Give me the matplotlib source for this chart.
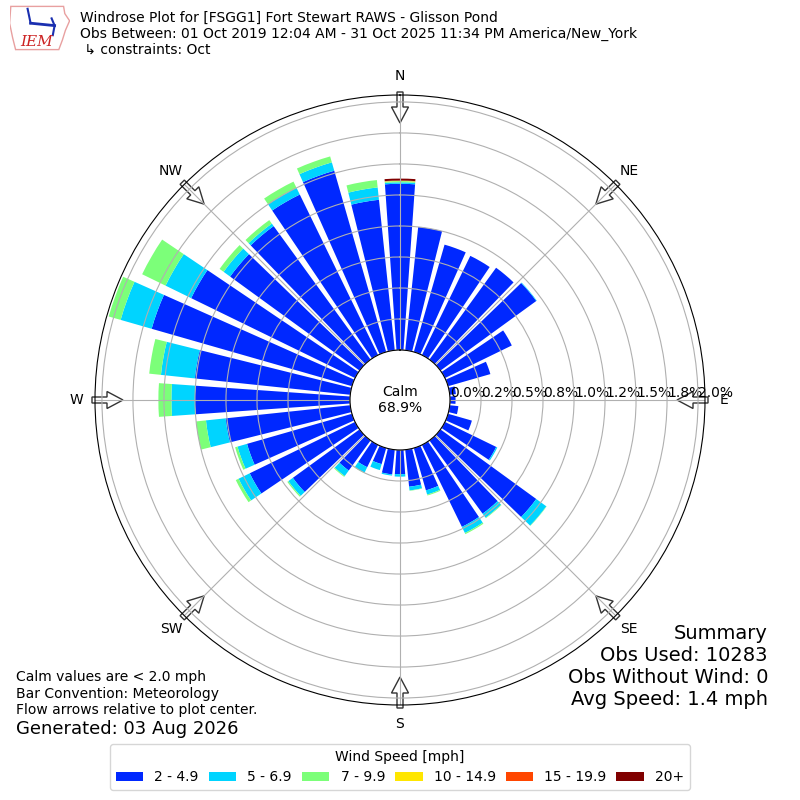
import numpy as np
import matplotlib.pyplot as plt
from matplotlib.patches import FancyArrow, Polygon

# wind directions (deg, bin centres) and frequency (%) per speed bin
directions = np.arange(0, 360, 10)
spd_2_5 = [1.34, 1.00, 0.90, 0.89, 0.915, 0.955, 0.60, 0.355, 0.05, 0.045,
           0.07, 0.20, 0.46, 0.955, 0.73, 0.735, 0.355, 0.30, 0.195, 0.20,
           0.135, 0.20, 0.30, 0.665, 0.945, 0.88, 1.01, 1.25, 1.26, 1.68,
           1.47, 1.29, 1.33, 1.44, 1.52, 1.22]
spd_5_7 = [0.012, 0, 0, 0, 0, 0.005, 0, 0, 0, 0,
           0, 0, 0.01, 0.10, 0.04, 0.055, 0.035, 0.03, 0.02, 0.01,
           0.05, 0.05, 0.055, 0.045, 0.10, 0.08, 0.16, 0.19, 0.275, 0.26,
           0.23, 0.065, 0.025, 0.06, 0.07, 0.10]
spd_7_10 = [0.01, 0, 0, 0, 0, 0, 0, 0, 0, 0,
            0, 0, 0, 0.003, 0.005, 0.01, 0.008, 0.003, 0, 0,
            0, 0.003, 0.008, 0.01, 0.025, 0.02, 0.08, 0.105, 0.095, 0.10,
            0.21, 0.04, 0.035, 0.056, 0.05, 0.06]
spd_10_15 = [0.002] + [0] * 35
spd_15_20 = [0.002] + [0] * 35
spd_20p = [0.016] + [0] * 35

bins = [spd_2_5, spd_5_7, spd_7_10, spd_10_15, spd_15_20, spd_20p]
bin_labels = ["2 - 4.9", "5 - 6.9", "7 - 9.9", "10 - 14.9", "15 - 19.9", "20+"]
colors = ["#0028ff", "#00d4ff", "#7cff79", "#ffe600", "#ff4600", "#800000"]

rticks = np.arange(0, 2.01, 0.25)
compass = ["N", "NE", "E", "SE", "S", "SW", "W", "NW"]
calm_pct = 68.9

fig = plt.figure(figsize=(8, 8), dpi=100)
ax = fig.add_axes([0.11875, 0.11875, 0.7625, 0.7625], projection="polar")
ax.set_theta_zero_location("N")
ax.set_theta_direction(-1)

theta = np.radians(directions)
width = np.radians(8)
bottom = np.zeros(len(directions))
for vals, lab, c in zip(bins, bin_labels, colors):
    vals = np.array(vals)
    ax.bar(theta, vals, width=width, bottom=bottom, color=c, label=lab,
           linewidth=0)
    bottom = bottom + vals

ax.set_rorigin(-0.403)
ax.set_ylim(0, 2.056)
ax.set_yticks(rticks)
ax.set_yticklabels(["%.1f%%" % v for v in rticks], fontsize=10)
ax.set_rlabel_position(90)
for t in ax.get_yticklabels():
    t.set_ha("left")
    t.set_va("bottom")
ax.set_xticks(np.radians(np.arange(0, 360, 45)))
ax.set_xticklabels(compass, fontsize=10)
ax.tick_params(axis="x", pad=3)
ax.grid(True, color="#b0b0b0", lw=0.8)

# flow arrows on the rim, pointing to the centre
for d in np.radians(np.arange(0, 360, 45)):
    s, c = np.sin(d), np.cos(d)
    ar = FancyArrow(0.5 + 308 / 610 * s, 0.5 + 308 / 610 * c,
                    -31 / 610 * s, -31 / 610 * c, width=6 / 610,
                    head_width=17 / 610, head_length=16 / 610,
                    length_includes_head=True, transform=ax.transAxes,
                    facecolor="white", edgecolor="#333333", lw=1,
                    zorder=1.2, clip_on=False)
    ax.add_patch(ar)

ax.text(0.5, 0.5, "Calm\n%.1f%%" % calm_pct, transform=ax.transAxes,
        ha="center", va="center", fontsize=10, zorder=5)

# header
fig.text(0.1, 0.987, "Windrose Plot for [FSGG1] Fort Stewart RAWS - Glisson Pond\n"
         "Obs Between: 01 Oct 2019 12:04 AM - 31 Oct 2025 11:34 PM America/New_York\n"
         " \u21b3 constraints: Oct", va="top", ha="left", fontsize=10)

# little IEM logo
lax = fig.add_axes([0.012, 0.935, 0.075, 0.06])
lax.set_xlim(0, 1)
lax.set_ylim(0, 1)
lax.axis("off")
outline = [(0.02, 0.95), (0.9, 0.95), (0.92, 0.8), (1.0, 0.65), (0.93, 0.45),
           (0.88, 0.25), (0.82, 0.05), (0.1, 0.05), (0.05, 0.3), (0.0, 0.6)]
lax.add_patch(Polygon(outline, closed=True, fill=False, edgecolor="#e8a0a0", lw=1))
lax.plot([0.35, 0.75], [0.6, 0.55], color="#1a2fb0", lw=2)
lax.plot([0.35, 0.3], [0.6, 0.9], color="#1a2fb0", lw=1.5)
lax.plot([0.7, 0.75, 0.72], [0.7, 0.55, 0.35], color="#1a2fb0", lw=1.5)
lax.text(0.45, 0.2, "IEM", color="#cc2222", fontsize=11, ha="center", va="center",
         family="serif", style="italic")

fig.text(0.02, 0.162, "Calm values are < 2.0 mph\nBar Convention: Meteorology\n"
         "Flow arrows relative to plot center.", va="top", ha="left", fontsize=10)
fig.text(0.02, 0.089, "Generated: 03 Aug 2026", va="center", ha="left", fontsize=13)

fig.text(0.96, 0.22, "Summary\nObs Used: 10283\nObs Without Wind: 0\nAvg Speed: 1.4 mph",
         va="top", ha="right", multialignment="right", fontsize=14)

handles, labels = ax.get_legend_handles_labels()
fig.legend(handles, labels, loc="lower center", bbox_to_anchor=(0.5, 0.0125),
           ncol=6, title="Wind Speed [mph]", fontsize=10, title_fontsize=10,
           columnspacing=0.7, borderaxespad=0)

fig.savefig("out.png", dpi=100)
